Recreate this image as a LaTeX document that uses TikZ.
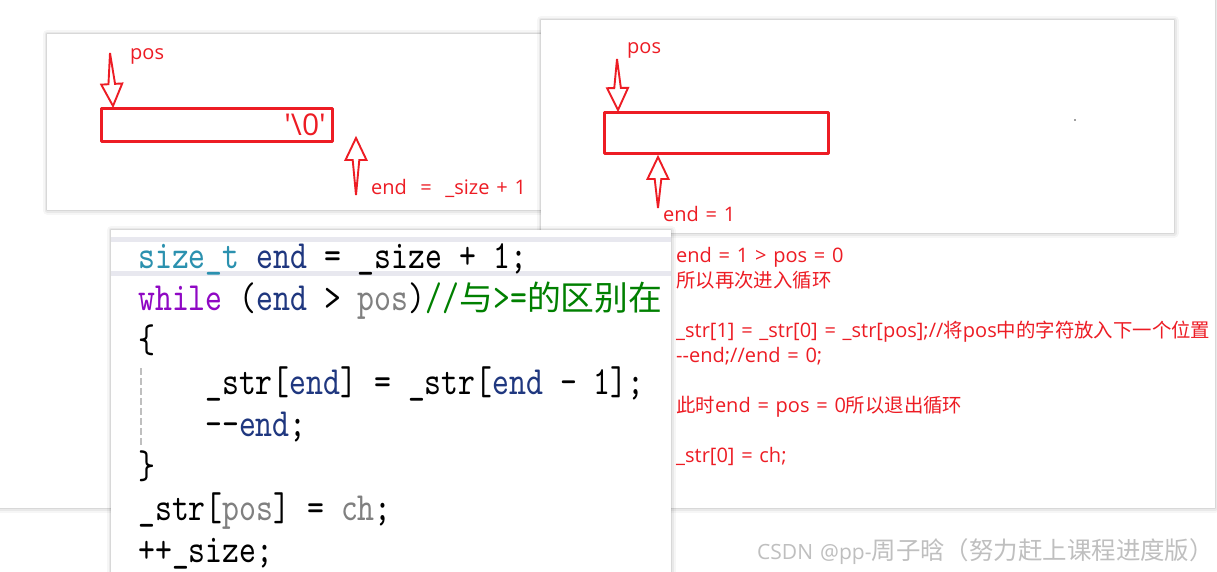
\documentclass[tikz,border=0pt]{standalone}
\usepackage{fontspec}
\usetikzlibrary{calc}
\newfontfamily\annofont{Open Sans}[WordSpace=1.3]
\newfontfamily\cjk{Noto Sans CJK SC}[Scale=0.97]
\newfontfamily\codefont{lmmono10-regular.otf}[FakeStretch=0.805]
\newfontfamily\codecjk{Noto Sans CJK SC}[Scale=0.846]
\definecolor{snipRed}{HTML}{ED1C24}
\definecolor{vsType}{HTML}{2B91AF}
\definecolor{vsLocal}{HTML}{1F377F}
\definecolor{vsKeyword}{HTML}{8F08C4}
\definecolor{vsComment}{HTML}{008000}
\definecolor{vsParam}{HTML}{808080}
\definecolor{vsBand}{HTML}{E8E8EF}
\begin{document}
\begin{tikzpicture}[x=1pt,y=-1pt,line cap=round,line join=round]
\path[use as bounding box,fill=white] (0,0) rectangle (1217,571);
\tikzset{panel/.style={fill=white,preaction={draw=black,opacity=.035,line width=9pt},preaction={draw=black,opacity=.05,line width=5pt},preaction={draw=black,opacity=.07,line width=2pt}},redbox/.style={draw=snipRed,line width=2.6pt,inner sep=0pt},redtext/.style={text=snipRed,font=\annofont\fontsize{20}{24}\selectfont,inner sep=0pt,anchor=base west},codeline/.style={font=\codefont\fontsize{40}{46}\selectfont,inner sep=0pt,anchor=base west},hollowarrow/.style={draw=snipRed,line width=1.9pt,line join=miter,miter limit=4,to path={-- ($(\tikztotarget)!22pt!(\tikztostart)!3.3pt!90:(\tikztostart)$) -- ($(\tikztotarget)!22pt!(\tikztostart)!10.5pt!90:(\tikztostart)$) -- (\tikztotarget) -- ($(\tikztotarget)!22pt!(\tikztostart)!10.5pt!-90:(\tikztostart)$) -- ($(\tikztotarget)!22pt!(\tikztostart)!3.3pt!-90:(\tikztostart)$) -- cycle}}}
\path[panel] (-12,-12) rectangle (1215,508);
\path[panel] (47,34) rectangle (600,210);
\node[redbox,minimum width=231.4pt,minimum height=33.4pt] (boxA) at (217,125) {};
\node[redtext,anchor=base east,font=\annofont\fontsize{30}{36}\selectfont] (nulChar) at (326,135) {'\textbackslash0'};
\node[redtext] (posLabelA) at (130,59) {pos};
\node[redtext] (endLabelA) at (371,194) {end\ \ =\ \ \_size + 1};
\coordinate (posTailA) at (110,53);
\coordinate (posTipA) at (113,106);
\coordinate (endTailA) at (356,195);
\coordinate (endTipA) at (356,138);
\draw[hollowarrow] (posTailA) to (posTipA);
\draw[hollowarrow] (endTailA) to (endTipA);
\path[panel] (541,20) rectangle (1174,233);
\node[redbox,minimum width=224.4pt,minimum height=41.4pt] (boxB) at (716.5,133) {};
\node[redtext] (posLabelB) at (627,53) {pos};
\node[redtext] (endLabelB) at (663,221) {end = 1};
\coordinate (posTailB) at (617,59);
\coordinate (posTipB) at (618,110);
\coordinate (endTailB) at (658,208);
\coordinate (endTipB) at (658,157);
\draw[hollowarrow] (posTailB) to (posTipB);
\draw[hollowarrow] (endTailB) to (endTipB);
\fill[black!75] (1075,120) circle (0.8);
\path[panel] (111,230) rectangle (671,600);
\begin{scope}
\clip (111,230) rectangle (671,571);
\path[fill=vsBand] (111,237) rectangle (671,242);
\path[fill=vsBand] (111,271) rectangle (671,276);
\node[codeline] (codeA) at (138,268) {\textcolor{vsType}{size\_t} \textcolor{vsLocal}{end} = \_size + 1;};
\node[codeline] (codeB) at (138,310) {\textcolor{vsKeyword}{while} (\textcolor{vsLocal}{end} > \textcolor{vsParam}{pos})\textcolor{vsComment}{//{\codecjk 与}>={\codecjk 的区别在}}};
\node[codeline] (codeC) at (138,352) {\{};
\node[codeline] (codeD) at (205,394) {\_str[\textcolor{vsLocal}{end}] = \_str[\textcolor{vsLocal}{end} - 1];};
\node[codeline] (codeE) at (205,436) {--\textcolor{vsLocal}{end};};
\node[codeline] (codeF) at (138,478) {\}};
\node[codeline] (codeG) at (138,520) {\_str[\textcolor{vsParam}{pos}] = \textcolor{vsParam}{ch};};
\node[codeline] (codeH) at (138,562) {++\_size;};
\draw[black!25,line width=1.3pt,line cap=butt,dash pattern=on 7pt off 3pt] (141,368) -- (141,447);
\end{scope}
\node[redtext] (noteA) at (676,262) {end = 1 > pos = 0};
\node[redtext] (noteB) at (676,287) {{\cjk 所以再次进入循环}};
\node[redtext] (noteC) at (676,337) {\_str[1] = \_str[0] = \_str[pos];//{\cjk 将}pos{\cjk 中的字符放入下一个位置}};
\node[redtext] (noteD) at (676,362) {--end;//end = 0;};
\node[redtext] (noteE) at (676,412) {{\cjk 此时}end = pos = 0{\cjk 所以退出循环}};
\node[redtext] (noteF) at (676,462) {\_str[0] = ch;};
\node[anchor=base west,inner sep=0pt,text=black!25,font=\annofont\fontsize{21}{25}\selectfont] (watermark) at (757,559) {CSDN @pp-{\cjk\fontsize{25.2}{30}\selectfont 周子晗（努力赶上课程进度版）}};
\end{tikzpicture}
\end{document}
